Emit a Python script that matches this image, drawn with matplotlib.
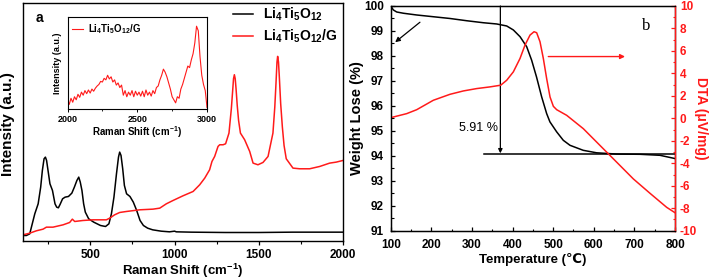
import numpy as np
import matplotlib
matplotlib.use("Agg")
import matplotlib.pyplot as plt
from matplotlib.ticker import MultipleLocator, NullLocator

plt.rcParams['font.family'] = ['Liberation Sans', 'DejaVu Sans']
plt.rcParams['font.weight'] = 'bold'
plt.rcParams['axes.labelweight'] = 'bold'
plt.rcParams['axes.unicode_minus'] = False
plt.rcParams['mathtext.fontset'] = 'custom'
plt.rcParams['mathtext.rm'] = 'Liberation Sans:bold'
plt.rcParams['mathtext.it'] = 'Liberation Sans:bold'
plt.rcParams['mathtext.bf'] = 'Liberation Sans:bold'

RED = '#ff1a1a'

# ---------------- Panel a: Raman ----------------
lto_x = [100, 120, 140, 155, 170, 190, 205, 215, 225, 233, 240, 250, 260, 275, 290, 300, 310, 320,
         335, 350, 370, 390, 405, 420, 431, 440, 450, 460, 470, 490, 520, 560, 590, 610, 625, 640,
         655, 667, 674, 682, 692, 702, 715, 735, 755, 775, 795, 815, 840, 870, 920, 970, 1000, 1010,
         1100, 1300, 1500, 1700, 2000]
lto_y = [15, 15, 20, 50, 80, 110, 160, 210, 245, 250, 240, 205, 170, 150, 110, 100, 98, 108,
         125, 130, 132, 142, 160, 180, 190, 175, 150, 110, 85, 65, 55, 45, 42, 50, 80, 130,
         200, 250, 265, 255, 215, 165, 140, 132, 115, 90, 60, 45, 37, 32, 28, 26, 28, 26,
         25, 24, 24, 25, 25]

ltog_x = [100, 140, 179, 219, 239, 278, 338, 377, 393, 407, 456, 516, 595, 615, 644, 674, 714, 793,
          872, 912, 951, 991, 1050, 1110, 1149, 1179, 1208, 1222, 1238, 1258, 1268, 1288, 1303, 1323,
          1337, 1345, 1350, 1355, 1360, 1365, 1372, 1380, 1391, 1416, 1446, 1466, 1495, 1525, 1555,
          1584, 1595, 1602, 1608, 1612, 1617, 1622, 1630, 1640, 1650, 1663, 1703, 1743, 1802, 1862,
          1921, 1960, 2000]
ltog_y = [17, 22, 29, 34, 40, 40, 47, 54, 64, 57, 60, 62, 62, 67, 77, 84, 87, 92,
          94, 97, 110, 120, 134, 147, 167, 187, 212, 237, 252, 282, 287, 287, 290, 322,
          395, 450, 485, 497, 485, 455, 405, 360, 322, 302, 267, 232, 227, 234, 252,
          322, 400, 470, 535, 552, 535, 490, 410, 340, 285, 245, 217, 215, 215, 222,
          232, 235, 240]

inset_x = list(np.arange(2000, 3000.1, 12.5))
inset_y = [30, 15, 35, 22, 40, 30, 48, 38, 55, 45, 60, 50, 62, 52, 65, 58, 68, 75, 80, 90,
           88, 100, 95, 110, 98, 105, 88, 95, 78, 85, 70, 78, 45, 60, 40, 55, 45, 60, 40, 58,
           45, 55, 42, 58, 40, 62, 45, 55, 42, 60, 50, 70, 75, 95, 110, 130, 120, 105, 85, 65,
           40, 30, 20, 40, 35, 65, 80, 100, 120, 140, 135, 160, 180, 215, 270, 255, 170, 110, 80, 60,
           5]

raman_xticks = [500, 1000, 1500, 2000]
inset_xticks = [2000, 2500, 3000]

# ---------------- Panel b: TG / DTA ----------------
tg_T = [100, 106.6, 114.8, 131.2, 164, 205, 246, 287, 328, 361, 385.6, 402, 418.5, 434.8, 447,
        459, 471.7, 484, 492, 508.6, 525, 541.5, 574, 607, 656, 714, 763, 800]
tg_W = [100, 99.84, 99.76, 99.71, 99.64, 99.57, 99.5, 99.41, 99.33, 99.28, 99.2, 99.04, 98.77,
        98.37, 97.83, 97.16, 96.36, 95.69, 95.36, 94.96, 94.62, 94.42, 94.22, 94.12, 94.07, 94.06,
        94.02, 93.89]

dta_T = [100, 139.4, 164, 205, 246, 279, 311.7, 344.5, 370.8, 385.6, 402, 418.4, 430.7, 443, 452.9,
         459.4, 467.6, 475.8, 484, 492.3, 500.5, 508.7, 533.3, 574.3, 615.3, 656.4, 697.4, 738.4,
         779.5, 800]
dta_V = [0.06, 0.42, 0.77, 1.61, 2.14, 2.44, 2.65, 2.80, 2.95, 3.39, 4.14, 5.33, 6.52, 7.41, 7.71,
         7.62, 6.82, 5.33, 3.54, 1.90, 1.07, 0.77, 0.27, -0.92, -2.41, -3.90, -5.39, -6.67,
         -7.92, -8.4]

fig = plt.figure(figsize=(7.09, 2.8), dpi=100)


def bold_ticks(a):
    for t in a.get_xticklabels() + a.get_yticklabels():
        t.set_fontweight('bold')


# ---- panel a
ax = fig.add_axes([23/709, 39.5/280, 320/709, 237.5/280])
ax.plot(lto_x, lto_y, color='black', lw=1.1, label='Li$_4$Ti$_5$O$_{12}$')
ax.plot(ltog_x, ltog_y, color=RED, lw=1.1, label='Li$_4$Ti$_5$O$_{12}$/G')
ax.set_xlim(100, 2000)
ax.set_ylim(0, 712)
ax.set_xticks(raman_xticks)
ax.xaxis.set_minor_locator(MultipleLocator(250))
ax.yaxis.set_major_locator(NullLocator())
ax.tick_params(axis='x', which='major', direction='out', length=3, width=0.9, labelsize=8.5, pad=3)
ax.tick_params(axis='x', which='minor', direction='out', length=2, width=0.8)
for s in ax.spines.values():
    s.set_linewidth(1.0)
ax.set_xlabel('Raman Shift (cm$^{-1}$)', fontsize=9.5, fontweight='bold')
ax.xaxis.set_label_coords(0.5, -0.088)
ax.set_ylabel('Intensity (a.u.)', fontsize=11, fontweight='bold')
ax.yaxis.set_label_coords(-0.026, 0.49)
ax.text(0.04, 0.935, 'a', transform=ax.transAxes, fontsize=10, fontweight='bold',
        ha='left', va='center')
leg = ax.legend(loc='upper left', bbox_to_anchor=(0.656, 0.99), frameon=False, fontsize=10,
                handlelength=1.45, handletextpad=0.7, labelspacing=0.35, borderaxespad=0,
                borderpad=0)
bold_ticks(ax)

# ---- inset
axi = fig.add_axes([67.5/709, (280-109)/280, 139.5/709, 92/280])
axi.plot(inset_x, inset_y, color=RED, lw=0.8, label='Li$_4$Ti$_5$O$_{12}$/G')
axi.set_xlim(2000, 3000)
axi.set_ylim(0, 300)
axi.set_xticks(inset_xticks)
axi.xaxis.set_minor_locator(MultipleLocator(250))
axi.yaxis.set_major_locator(NullLocator())
axi.tick_params(axis='x', which='major', direction='out', length=2, width=0.7, labelsize=6.5, pad=2)
axi.tick_params(axis='x', which='minor', direction='out', length=1.2, width=0.6)
for s in axi.spines.values():
    s.set_linewidth(0.8)
axi.set_xlabel('Raman Shift (cm$^{-1}$)', fontsize=7, fontweight='bold')
axi.xaxis.set_label_coords(0.5, -0.16)
axi.set_ylabel('Intensity (a.u.)', fontsize=6.5, fontweight='bold')
axi.yaxis.set_label_coords(-0.04, 0.5)
axi.legend(loc='center left', bbox_to_anchor=(0.03, 0.87), frameon=False, fontsize=7,
           handlelength=1.2, handletextpad=0.5, borderaxespad=0, borderpad=0)
bold_ticks(axi)

# ---- panel b
axb = fig.add_axes([390.7/709, 49.3/280, 284.3/709, 224.7/280])
axb.plot(tg_T, tg_W, color='black', lw=1.1)
axb.set_xlim(100, 800)
axb.set_ylim(91, 100)
axb.set_xticks(range(100, 801, 100))
axb.xaxis.set_minor_locator(MultipleLocator(50))
axb.set_yticks(range(91, 101))
axb.yaxis.set_minor_locator(MultipleLocator(0.5))
axb.tick_params(axis='both', which='major', direction='in', length=3, width=0.9, labelsize=8.5, pad=5)
axb.tick_params(axis='both', which='minor', direction='in', length=1.8, width=0.8)
axb.tick_params(axis='x', pad=6)
for s in axb.spines.values():
    s.set_linewidth(1.0)
axb.set_xlabel('Temperature (\u2103)', fontsize=9.5, fontweight='bold')
axb.xaxis.set_label_coords(0.5, -0.1)
axb.set_ylabel('Weight Lose (%)', fontsize=10.5, fontweight='bold')
axb.yaxis.set_label_coords(-0.094, 0.5)
bold_ticks(axb)

axr = axb.twinx()
axr.plot(dta_T, dta_V, color=RED, lw=1.1)
axr.set_ylim(-10, 10)
axr.set_yticks(range(-10, 11, 2))
axr.yaxis.set_minor_locator(MultipleLocator(1))
axr.tick_params(axis='y', which='major', direction='in', length=3, width=0.9, labelsize=8.5,
                colors=RED, pad=3.5)
axr.tick_params(axis='y', which='minor', direction='in', length=1.8, width=0.8, colors=RED)
axr.spines['right'].set_color(RED)
axr.spines['right'].set_linewidth(1.0)
axr.set_ylabel('DTA (\u03bcV/mg)', fontsize=10, color=RED, rotation=270, fontweight='bold')
axr.yaxis.set_label_coords(1.116, 0.5)
bold_ticks(axr)

# annotations
axb.annotate('', xy=(370, 94.1), xytext=(370, 100),
             arrowprops=dict(arrowstyle='-|>', color='black', lw=0.9, mutation_scale=6,
                             shrinkA=0, shrinkB=0))
axb.plot([330, 800], [94.08, 94.08], color='black', lw=1.1)
axb.text(267, 95.1, '5.91 %', fontsize=9, fontweight='normal', ha='left', va='center')
axb.annotate('', xy=(111, 98.55), xytext=(172, 99.35),
             arrowprops=dict(arrowstyle='-|>', color='black', lw=0.9, mutation_scale=7,
                             shrinkA=0, shrinkB=0))
axr.annotate('', xy=(677, 5.5), xytext=(488, 5.5),
             arrowprops=dict(arrowstyle='-|>', color=RED, lw=1.0, mutation_scale=7,
                             shrinkA=0, shrinkB=0))
axb.text(728, 99.2, 'b', fontsize=12, family=['Liberation Serif', 'DejaVu Serif'],
         fontweight='normal', ha='center', va='center')

fig.savefig('out.png', dpi=100)
